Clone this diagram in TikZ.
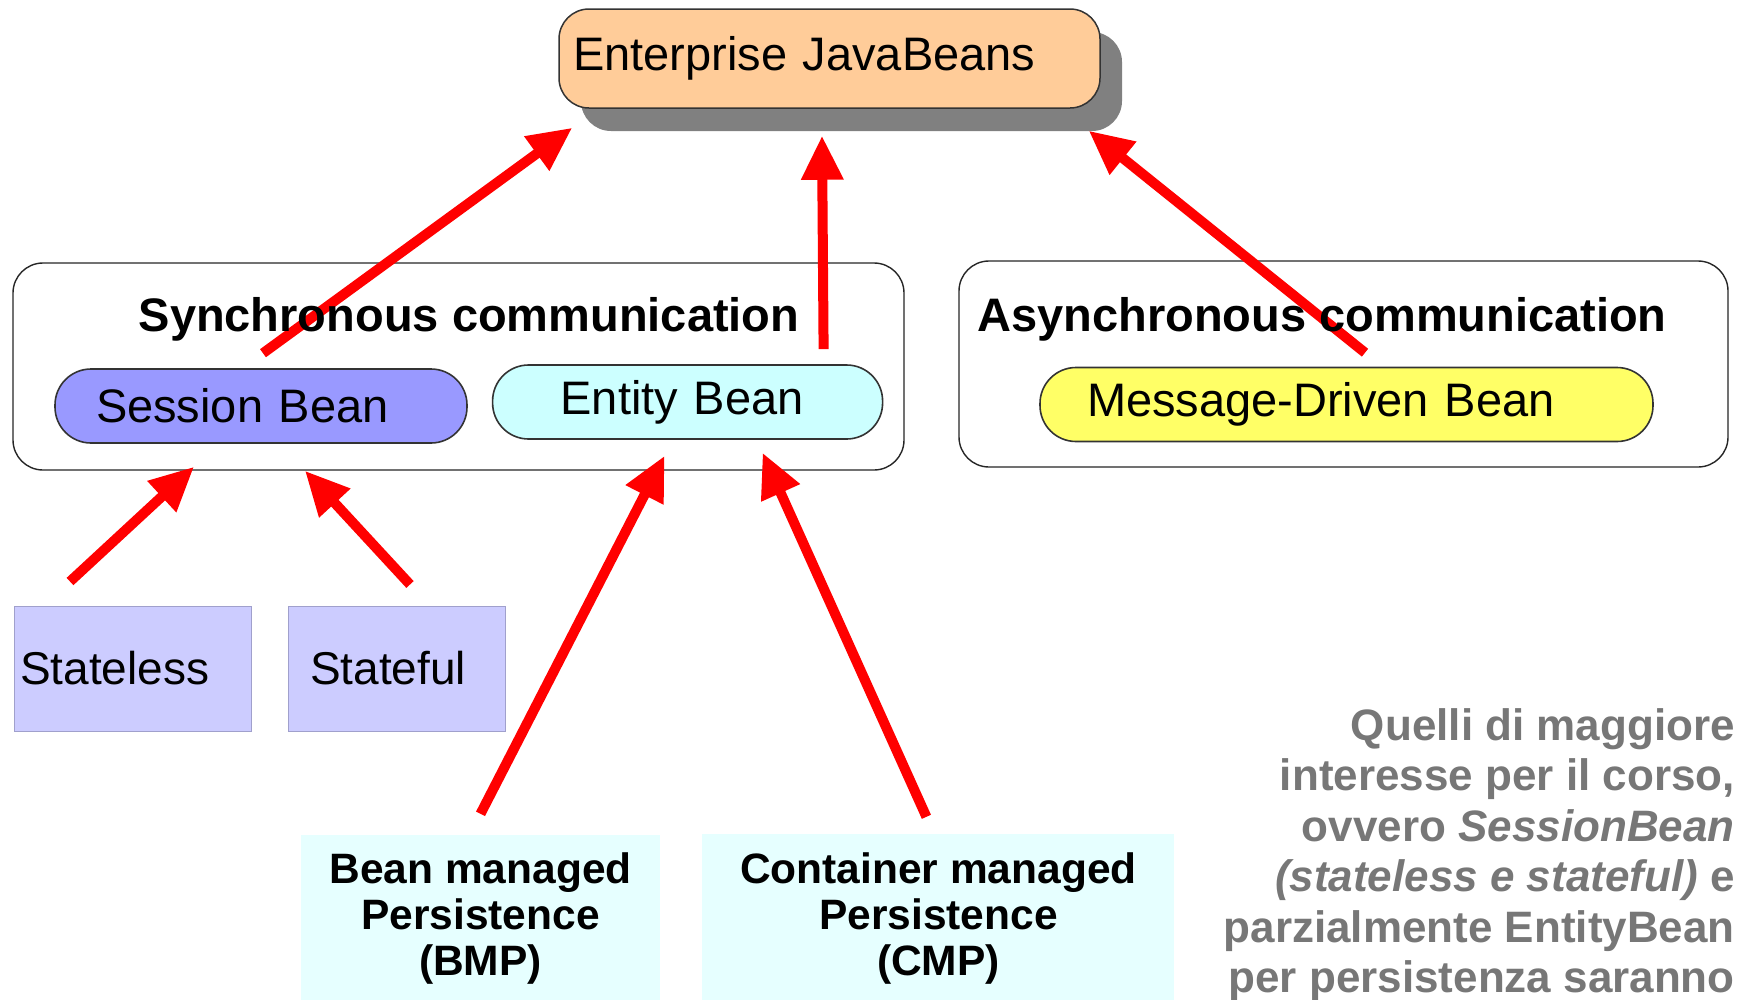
\documentclass[tikz,border=0pt]{standalone}
\usepackage{fontspec}
\setmainfont{Liberation Sans}
\usetikzlibrary{arrows.meta, positioning, shadows}

\definecolor{peach}{HTML}{FFCC99}
\definecolor{shadowgray}{HTML}{808080}
\definecolor{sessblue}{HTML}{9999FF}
\definecolor{entcyan}{HTML}{CCFFFF}
\definecolor{mdbyellow}{HTML}{FFFF66}
\definecolor{leaflilac}{HTML}{CCCCFF}
\definecolor{leafedge}{HTML}{A0A0CC}
\definecolor{perscyan}{HTML}{E6FFFF}
\definecolor{notegray}{HTML}{777777}

\begin{document}
\begin{tikzpicture}[
      x=1pt, y=-1pt,
      every node/.style={font=\fontsize{47}{56}\selectfont, inner ysep=0pt},
      ejbbox/.style={draw=black!80, line width=1.5pt, fill=peach, rounded corners=30pt,
        minimum height=99pt, inner xsep=14pt, text width=513pt, align=left,
        drop shadow={shadow xshift=22pt, shadow yshift=-23pt, fill=shadowgray, opacity=1}},
      group/.style={draw=black!85, line width=1.4pt, rounded corners=30pt, fill=white},
      pill/.style={draw=black!80, line width=1.6pt, rounded corners=36pt, align=left, minimum height=74pt},
      leaf/.style={draw=leafedge, line width=1pt, fill=leaflilac, align=left,
        minimum height=125pt, font=\fontsize{46}{55}\selectfont},
      persist/.style={fill=perscyan, align=center, font=\bfseries\fontsize{42.5}{46}\selectfont},
      title/.style={font=\bfseries\fontsize{47}{56}\selectfont},
      uses/.style={draw=red, line width=10pt, -{Triangle[length=44pt, width=40pt]}}
    ]
    \useasboundingbox (0,0) rectangle (1737,999);

    \node[ejbbox] (ejb) at (829.5,58.5) {Enterprise JavaBeans};

    % the two groups
    \node[group, minimum width=891pt, minimum height=207pt] (sync) at (458.5,366.5) {};
    \node[group, minimum width=769pt, minimum height=206pt] (async) at (1343.5,364) {};

    \node[pill, fill=sessblue, inner xsep=41pt, text width=330pt] (sess) at (261,406) {Session Bean};
    \node[pill, fill=entcyan, inner xsep=68pt, text width=254pt, right=24pt of sess, yshift=4pt] (ent) {\raisebox{-3pt}{Entity Bean}};
    \node[pill, fill=mdbyellow, inner xsep=47pt, text width=519pt] (mdb) at (1346.5,404.5) {Message-Driven Bean};

    \node[leaf, inner xsep=6pt, text width=225pt] (sless) at (132.5,668.5) {Stateless};
    \node[leaf, inner xsep=22pt, text width=173pt, right=36pt of sless] (sful) {Stateful};

    \node[persist, minimum width=359pt, minimum height=166pt] (bmp) at (480.5,918) {Bean managed\\Persistence\\(BMP)};
    \node[persist, minimum width=472pt, minimum height=168pt, right=42pt of bmp] (cmp) {Container managed\\Persistence\\(CMP)};

    \draw[uses] ([shift={(2,-15)}]sess.north) -- ([shift={(14,19)}]ejb.south west);
    \draw[uses] ([shift={(136,-15)}]ent.north) -- ([shift={(-7.5,27)}]ejb.south);
    \draw[uses] ([shift={(18.5,-14)}]mdb.north) -- ([shift={(-12,22)}]ejb.south east);
    \draw[uses] ([shift={(-62.5,-24)}]sless.north) -- ([shift={(-67,23)}]sess.south);
    \draw[uses] ([shift={(13.5,-21)}]sful.north) -- ([shift={(44,27)}]sess.south);
    \draw[uses] ([shift={(0,-21)}]bmp.north) -- ([shift={(-23,16)}]ent.south);
    \draw[uses] ([shift={(-12,-17)}]cmp.north) -- ([shift={(75,13)}]ent.south);

    % titles sit on top of the arrows
    \node[title] (synct) at (469,319) {Synchronous communication};
    \node[title] (asynct) at (1322,319) {Asynchronous communication};

    \node[anchor=north east, inner sep=0pt, align=right, text=notegray,
          font=\bfseries\fontsize{44}{50.5}\selectfont] (note) at (1735,708)
      {Quelli di maggiore\\
       interesse per il corso,\\
       ovvero \textit{SessionBean}\\
       \textit{(stateless e stateful)} e\\
       parzialmente EntityBean\\
       per persistenza saranno};
\end{tikzpicture}
\end{document}
